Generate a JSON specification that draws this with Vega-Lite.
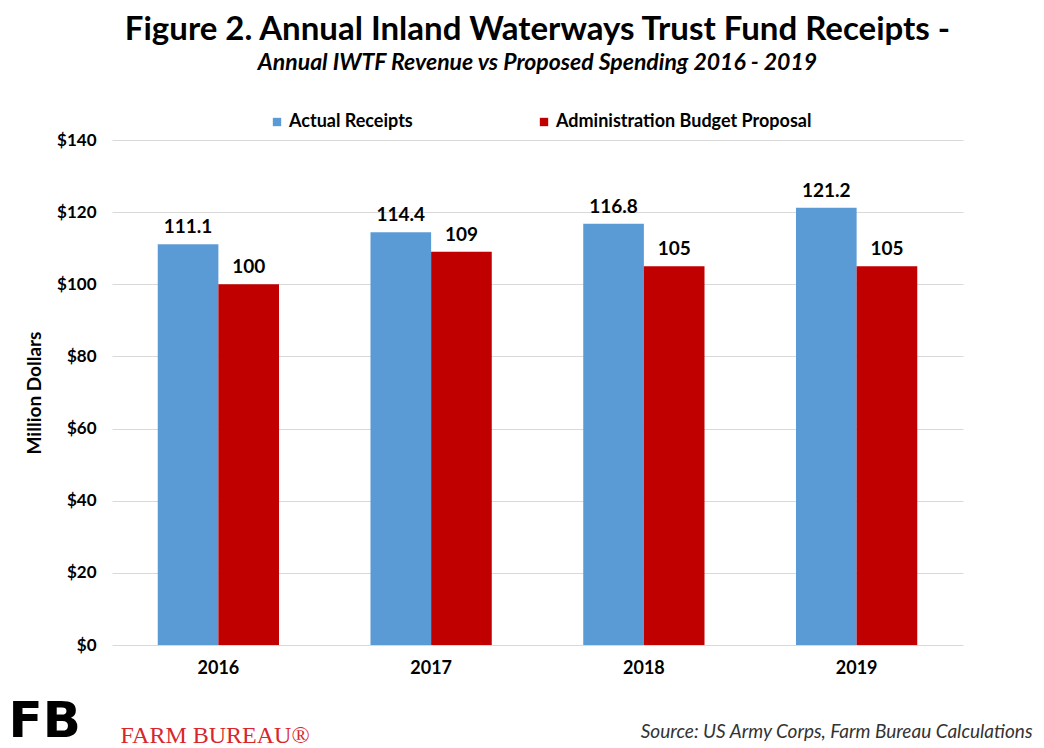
{
  "$schema": "https://vega.github.io/schema/vega-lite/v6.json",
  "width": 851,
  "height": 505,
  "autosize": {"type": "none"},
  "padding": {"left": 112, "top": 140, "right": 81, "bottom": 103},
  "background": "white",
  "title": {
    "text": "Figure 2. Annual Inland Waterways Trust Fund Receipts -",
    "subtitle": "Annual IWTF Revenue vs Proposed Spending 2016 - 2019",
    "anchor": "middle",
    "font": "Lato",
    "fontSize": 33,
    "fontWeight": "bold",
    "color": "black",
    "subtitleFont": "Lato",
    "subtitleFontSize": 23,
    "subtitleFontStyle": "italic",
    "subtitleFontWeight": "bold",
    "subtitleColor": "black",
    "subtitlePadding": 5,
    "offset": 38
  },
  "data": {
    "values": [
      {"year": "2016", "series": "Actual Receipts", "value": 111.1},
      {"year": "2016", "series": "Administration Budget Proposal", "value": 100},
      {"year": "2017", "series": "Actual Receipts", "value": 114.4},
      {"year": "2017", "series": "Administration Budget Proposal", "value": 109},
      {"year": "2018", "series": "Actual Receipts", "value": 116.8},
      {"year": "2018", "series": "Administration Budget Proposal", "value": 105},
      {"year": "2019", "series": "Actual Receipts", "value": 121.2},
      {"year": "2019", "series": "Administration Budget Proposal", "value": 105}
    ]
  },
  "config": {
    "view": {"stroke": null},
    "font": "Lato"
  },
  "resolve": {"axis": {"x": "independent"}},
  "layer": [
    {
      "mark": {"type": "bar"},
      "encoding": {
        "x": {
          "field": "year", "type": "nominal",
          "scale": {"paddingInner": 0.43, "paddingOuter": 0.215},
          "axis": {
            "orient": "bottom",
            "labelAngle": 0, "labelFont": "Lato", "labelFontSize": 18, "labelFontWeight": "bold", "labelColor": "black",
            "labelPadding": 14, "ticks": false, "domain": false, "grid": false,
            "title": "Source: US Army Corps, Farm Bureau Calculations",
            "titleFont": "Lato", "titleFontSize": 19, "titleFontStyle": "italic", "titleFontWeight": "normal", "titleColor": "#333333",
            "titleAlign": "right", "titleAnchor": "end", "titleX": 920, "titleY": 92, "titleBaseline": "alphabetic"
          }
        },
        "xOffset": {"field": "series", "type": "nominal"},
        "y": {
          "field": "value", "type": "quantitative",
          "scale": {"domain": [0, 140], "nice": false},
          "axis": {
            "values": [0, 20, 40, 60, 80, 100, 120, 140],
            "format": "$.0f",
            "labelFont": "Lato", "labelFontSize": 17, "labelFontWeight": "bold", "labelColor": "black",
            "labelPadding": 16, "ticks": false, "domain": false,
            "grid": true, "gridColor": "#d9d9d9", "gridWidth": 1,
            "title": "Million Dollars", "titleFont": "Lato", "titleFontSize": 19, "titleFontWeight": "bold", "titleColor": "black",
            "titlePadding": 12
          }
        },
        "color": {
          "field": "series", "type": "nominal",
          "scale": {"domain": ["Actual Receipts", "Administration Budget Proposal"], "range": ["#5B9BD5", "#C00000"]},
          "legend": {
            "title": null, "orient": "none", "direction": "horizontal",
            "legendX": 156, "legendY": -27,
            "symbolType": "square", "symbolSize": 70, "symbolStrokeWidth": 0,
            "labelFont": "Lato", "labelFontSize": 18, "labelFontWeight": "bold", "labelColor": "black",
            "labelLimit": 400, "labelOffset": 3, "columnPadding": 122
          }
        }
      }
    },
    {
      "mark": {"type": "text", "dy": -17, "font": "Lato", "fontSize": 19, "fontWeight": "bold", "color": "black"},
      "encoding": {
        "x": {"field": "year", "type": "nominal", "axis": null},
        "xOffset": {"field": "series", "type": "nominal"},
        "y": {"field": "value", "type": "quantitative"},
        "text": {"field": "value", "type": "quantitative"}
      }
    },
    {
      "mark": {"type": "rule", "opacity": 0},
      "encoding": {
        "x": {
          "field": "year", "type": "nominal",
          "axis": {
            "orient": "top",
            "labels": false, "ticks": false, "domain": false, "grid": false,
            "title": "FARM BUREAU®", "titleFont": "Liberation Serif", "titleFontSize": 24, "titleFontWeight": "normal",
            "titleColor": "#D9262B", "titleAlign": "left", "titleAnchor": "start", "titleX": 8, "titleY": 602, "titleBaseline": "alphabetic"
          }
        },
        "y": {"datum": 0}
      }
    },
    {
      "mark": {"type": "rule", "opacity": 0},
      "encoding": {
        "x": {
          "field": "year", "type": "nominal",
          "axis": {
            "orient": "top",
            "labels": false, "ticks": false, "domain": false, "grid": false,
            "title": "FB", "titleFont": "DejaVu Sans", "titleFontSize": 50, "titleFontWeight": "bold",
            "titleColor": "black", "titleAlign": "left", "titleAnchor": "start", "titleX": -104, "titleY": 596, "titleBaseline": "alphabetic"
          }
        },
        "y": {"datum": 0}
      }
    }
  ]
}
